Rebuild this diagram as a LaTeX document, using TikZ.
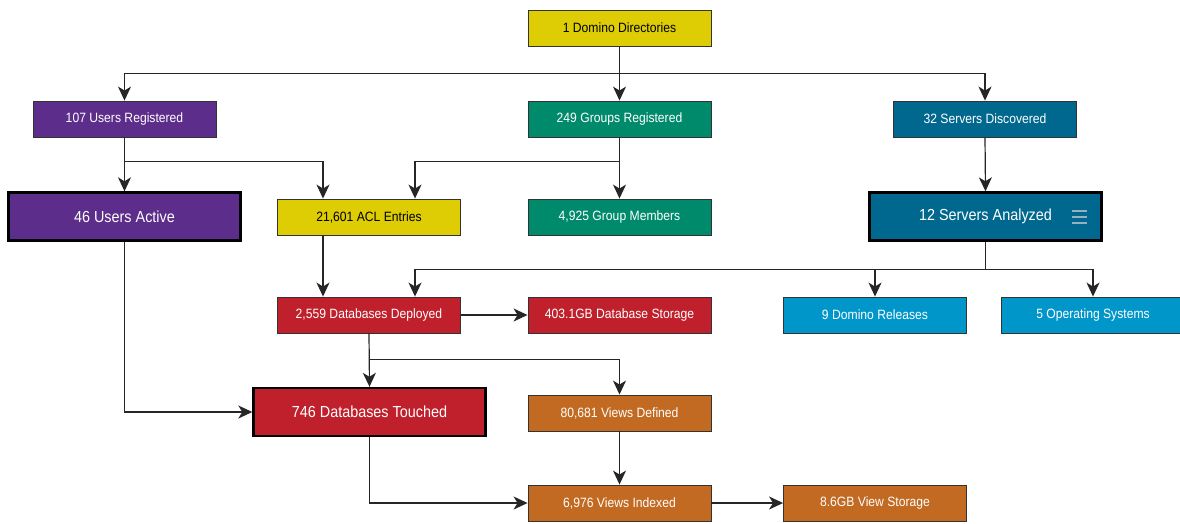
\documentclass[tikz,border=0pt]{standalone}
\usepackage{fontspec}
\setmainfont{Liberation Sans}[FakeStretch=0.9]
\usetikzlibrary{arrows.meta,calc}
\definecolor{cyel}{RGB}{222,205,4}
\definecolor{cpur}{RGB}{92,45,138}
\definecolor{cgrn}{RGB}{0,138,108}
\definecolor{cdbl}{RGB}{0,104,142}
\definecolor{clbl}{RGB}{0,150,202}
\definecolor{cred}{RGB}{192,32,44}
\definecolor{corg}{RGB}{195,106,34}
\definecolor{cham}{RGB}{150,175,195}
\tikzset{
  box/.style={draw=black!80, line width=0.9pt, minimum width=183pt, minimum height=36pt,
    inner sep=0pt, text=white, font=\fontsize{13.5}{15}\selectfont},
  bigbox/.style={draw=black, line width=2.4pt, minimum width=232pt, minimum height=48pt,
    inner sep=0pt, text=white, font=\fontsize{16}{18}\selectfont},
  conn/.style={draw=black!85, line width=1.2pt},
  arr/.style={conn, -{Stealth[length=14pt,width=13pt,inset=4pt]}},
  ham/.style={draw=cham, line width=2pt}
}
\begin{document}
\begin{tikzpicture}[x=1pt,y=-1pt]
\useasboundingbox (0,0) rectangle (1180,523);
\fill[white] (0,0) rectangle (1180,523);
% nodes
\node[box, fill=cyel, text=black] (dom) at (619.5,28) {1 Domino Directories};
\node[box, fill=cpur] (ureg) at (124.5,119) {107 Users Registered};
\node[box, fill=cgrn] (greg) at (619.5,119) {249 Groups Registered};
\node[box, fill=cdbl] (sdisc) at (985,119) {32 Servers Discovered};
\node[bigbox, fill=cpur] (uact) at (124.5,216.5) {46 Users Active};
\node[box, fill=cyel, text=black] (acl) at (369,217) {21,601 ACL Entries};
\node[box, fill=cgrn] (gmem) at (619.5,217) {4,925 Group Members};
\node[bigbox, fill=cdbl] (sana) at (985.5,216.5) {12 Servers Analyzed};
\node[box, fill=cred] (dbdep) at (369,315) {2,559 Databases Deployed};
\node[box, fill=cred] (dbsto) at (619.5,315) {403.1GB Database Storage};
\node[box, fill=clbl] (drel) at (875,315) {9 Domino Releases};
\node[box, fill=clbl] (os) at (1093,315) {5 Operating Systems};
\node[bigbox, fill=cred] (dbt) at (369.5,412) {746 Databases Touched};
\node[box, fill=corg] (vdef) at (619.5,413) {80,681 Views Defined};
\node[box, fill=corg] (vidx) at (619.5,503) {6,976 Views Indexed};
\node[box, fill=corg] (vsto) at (875,503) {8.6GB View Storage};
% hamburger icon
\draw[ham] ($(sana.center)+(86.5,-6)$) -- ++(15,0);
\draw[ham] ($(sana.center)+(86.5,0)$) -- ++(15,0);
\draw[ham] ($(sana.center)+(86.5,6)$) -- ++(15,0);
% junctions
\coordinate (j1) at ($(dom.south)+(0,27)$);
\coordinate (j2) at ($(ureg.south)+(0,24)$);
\coordinate (j3) at ($(greg.south)+(0,24)$);
\coordinate (j4) at ($(sana.south)+(0,27.5)$);
\coordinate (j5) at ($(dbdep.south)+(0,26)$);
% connectors
\draw[arr] (dom.south) -- (greg.north);
\draw[arr] (j1) -| (ureg.north);
\draw[arr] (j1) -| (sdisc.north);
\draw[arr] (ureg.south) -- (uact.north);
\draw[arr] (j2) -| ([xshift=-46pt]acl.north);
\draw[arr] (greg.south) -- (gmem.north);
\draw[arr] (j3) -| ([xshift=46pt]acl.north);
\draw[arr] (sdisc.south) -- (sana.north);
\draw[conn] (sana.south) -- (j4);
\draw[arr] (j4) -| (drel.north);
\draw[arr] (j4) -| (os.north);
\draw[arr] (j4) -| ([xshift=46pt]dbdep.north);
\draw[arr] ([xshift=-46pt]acl.south) -- ([xshift=-46pt]dbdep.north);
\draw[arr] (dbdep.east) -- (dbsto.west);
\draw[arr] (dbdep.south) -- (dbt.north);
\draw[arr] (j5) -| (vdef.north);
\draw[arr] (uact.south) |- (dbt.west);
\draw[arr] (dbt.south) |- (vidx.west);
\draw[arr] (vdef.south) -- (vidx.north);
\draw[arr] (vidx.east) -- (vsto.west);
\end{tikzpicture}
\end{document}
